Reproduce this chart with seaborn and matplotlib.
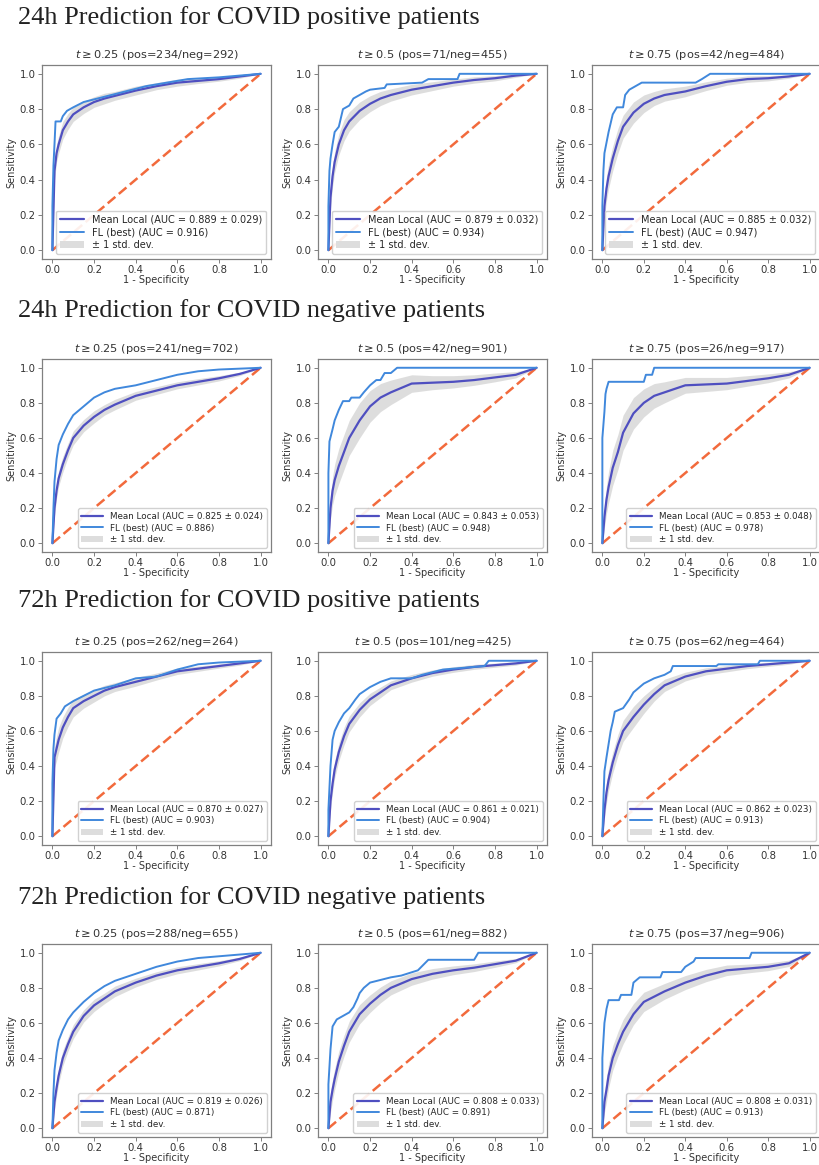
import numpy as np
import matplotlib
matplotlib.use("Agg")
import matplotlib.pyplot as plt
import seaborn as sns

sns.set_style("white")
plt.rcParams["font.family"] = ["DejaVu Sans"]

# ---------------------------------------------------------------------------
# Data
# ---------------------------------------------------------------------------
row_titles = [
    "24h Prediction for COVID positive patients",
    "24h Prediction for COVID negative patients",
    "72h Prediction for COVID positive patients",
    "72h Prediction for COVID negative patients",
]

thresholds = ["0.25", "0.5", "0.75"]

pos_counts = [[234, 71, 42], [241, 42, 26], [262, 101, 62], [288, 61, 37]]
neg_counts = [[292, 455, 484], [702, 901, 917], [264, 425, 464], [655, 882, 906]]

mean_auc = [[0.889, 0.879, 0.885], [0.825, 0.843, 0.853],
            [0.870, 0.861, 0.862], [0.819, 0.808, 0.808]]
std_auc = [[0.029, 0.032, 0.032], [0.024, 0.053, 0.048],
           [0.027, 0.021, 0.023], [0.026, 0.033, 0.031]]
fl_auc = [[0.916, 0.934, 0.947], [0.886, 0.948, 0.978],
          [0.903, 0.904, 0.913], [0.871, 0.891, 0.913]]

# false positive rate grid shared by the averaged local curves
mean_fpr = [0.0, 0.01, 0.02, 0.03, 0.05, 0.075, 0.1, 0.15, 0.2, 0.25,
            0.3, 0.4, 0.5, 0.6, 0.7, 0.8, 0.9, 1.0]

# mean true positive rate of the local models
mean_tpr = [
    [[0.0, 0.45, 0.55, 0.60, 0.68, 0.73, 0.77, 0.81, 0.84, 0.86, 0.875, 0.905, 0.93, 0.95, 0.96, 0.97, 0.985, 1.0],
     [0.0, 0.30, 0.42, 0.50, 0.60, 0.68, 0.73, 0.79, 0.83, 0.86, 0.88, 0.91, 0.93, 0.95, 0.965, 0.975, 0.99, 1.0],
     [0.0, 0.25, 0.35, 0.42, 0.52, 0.62, 0.70, 0.78, 0.83, 0.86, 0.88, 0.90, 0.93, 0.955, 0.97, 0.975, 0.985, 1.0]],
    [[0.0, 0.20, 0.30, 0.37, 0.45, 0.53, 0.60, 0.67, 0.72, 0.76, 0.79, 0.84, 0.87, 0.90, 0.92, 0.94, 0.965, 1.0],
     [0.0, 0.20, 0.30, 0.36, 0.44, 0.52, 0.60, 0.70, 0.78, 0.83, 0.86, 0.91, 0.915, 0.92, 0.93, 0.945, 0.96, 1.0],
     [0.0, 0.15, 0.25, 0.32, 0.43, 0.52, 0.63, 0.74, 0.80, 0.84, 0.86, 0.90, 0.905, 0.91, 0.925, 0.94, 0.96, 1.0]],
    [[0.0, 0.45, 0.50, 0.55, 0.62, 0.68, 0.73, 0.77, 0.80, 0.83, 0.85, 0.88, 0.91, 0.94, 0.955, 0.97, 0.985, 1.0],
     [0.0, 0.20, 0.30, 0.38, 0.48, 0.57, 0.64, 0.72, 0.78, 0.82, 0.86, 0.90, 0.93, 0.95, 0.965, 0.975, 0.985, 1.0],
     [0.0, 0.15, 0.25, 0.32, 0.42, 0.52, 0.60, 0.68, 0.75, 0.81, 0.86, 0.91, 0.94, 0.955, 0.97, 0.98, 0.99, 1.0]],
    [[0.0, 0.15, 0.23, 0.30, 0.40, 0.48, 0.55, 0.64, 0.70, 0.74, 0.78, 0.83, 0.87, 0.90, 0.92, 0.94, 0.965, 1.0],
     [0.0, 0.15, 0.22, 0.28, 0.38, 0.47, 0.55, 0.65, 0.71, 0.76, 0.80, 0.85, 0.88, 0.90, 0.915, 0.935, 0.955, 1.0],
     [0.0, 0.15, 0.22, 0.30, 0.40, 0.48, 0.55, 0.65, 0.72, 0.75, 0.78, 0.83, 0.87, 0.90, 0.91, 0.92, 0.94, 1.0]],
]

# spread (one standard deviation) of the local true positive rates
std_tpr = [
    [[0.0, 0.05, 0.05, 0.05, 0.05, 0.045, 0.04, 0.035, 0.03, 0.03, 0.025, 0.025, 0.02, 0.02, 0.015, 0.012, 0.01, 0.0],
     [0.0, 0.06, 0.06, 0.06, 0.06, 0.06, 0.055, 0.05, 0.045, 0.04, 0.035, 0.03, 0.025, 0.02, 0.018, 0.015, 0.01, 0.0],
     [0.0, 0.06, 0.07, 0.07, 0.07, 0.07, 0.065, 0.06, 0.05, 0.04, 0.035, 0.03, 0.025, 0.02, 0.018, 0.015, 0.01, 0.0]],
    [[0.0, 0.045, 0.045, 0.045, 0.045, 0.04, 0.04, 0.035, 0.035, 0.03, 0.03, 0.025, 0.022, 0.02, 0.018, 0.015, 0.01, 0.0],
     [0.0, 0.06, 0.08, 0.09, 0.10, 0.10, 0.10, 0.10, 0.09, 0.08, 0.07, 0.05, 0.04, 0.035, 0.03, 0.025, 0.018, 0.0],
     [0.0, 0.06, 0.08, 0.09, 0.10, 0.10, 0.10, 0.09, 0.08, 0.07, 0.06, 0.045, 0.04, 0.035, 0.03, 0.025, 0.018, 0.0]],
    [[0.0, 0.06, 0.07, 0.07, 0.06, 0.055, 0.05, 0.04, 0.035, 0.03, 0.025, 0.025, 0.02, 0.018, 0.015, 0.012, 0.01, 0.0],
     [0.0, 0.05, 0.05, 0.05, 0.05, 0.05, 0.045, 0.04, 0.035, 0.03, 0.025, 0.022, 0.018, 0.016, 0.014, 0.012, 0.01, 0.0],
     [0.0, 0.05, 0.06, 0.06, 0.06, 0.06, 0.06, 0.06, 0.05, 0.04, 0.035, 0.025, 0.02, 0.018, 0.015, 0.012, 0.01, 0.0]],
    [[0.0, 0.045, 0.045, 0.045, 0.045, 0.04, 0.04, 0.035, 0.035, 0.03, 0.03, 0.025, 0.022, 0.02, 0.018, 0.015, 0.01, 0.0],
     [0.0, 0.06, 0.06, 0.06, 0.06, 0.06, 0.06, 0.055, 0.05, 0.045, 0.04, 0.035, 0.03, 0.025, 0.022, 0.018, 0.012, 0.0],
     [0.0, 0.06, 0.07, 0.07, 0.07, 0.07, 0.07, 0.06, 0.055, 0.05, 0.045, 0.04, 0.035, 0.03, 0.025, 0.022, 0.018, 0.0]],
]

# federated model ROC curve points
fl_fpr = [
    [[0, 0, 0.005, 0.01, 0.015, 0.04, 0.05, 0.07, 0.1, 0.15, 0.25, 0.35, 0.45, 0.55, 0.65, 0.8, 1.0],
     [0, 0, 0.005, 0.01, 0.02, 0.03, 0.05, 0.07, 0.1, 0.12, 0.15, 0.18, 0.2, 0.27, 0.28, 0.45, 0.48, 0.62, 0.63, 1.0],
     [0, 0, 0.005, 0.01, 0.03, 0.05, 0.07, 0.1, 0.11, 0.13, 0.16, 0.19, 0.45, 0.48, 0.52, 1.0]],
    [[0, 0.005, 0.01, 0.02, 0.03, 0.05, 0.075, 0.1, 0.15, 0.2, 0.25, 0.3, 0.4, 0.5, 0.6, 0.7, 0.8, 1.0],
     [0, 0, 0.005, 0.02, 0.03, 0.05, 0.07, 0.1, 0.11, 0.15, 0.17, 0.2, 0.23, 0.25, 0.27, 0.3, 0.33, 1.0],
     [0, 0, 0.01, 0.015, 0.02, 0.03, 0.2, 0.21, 0.24, 0.25, 1.0]],
    [[0, 0, 0.005, 0.01, 0.02, 0.04, 0.06, 0.1, 0.15, 0.2, 0.3, 0.4, 0.5, 0.6, 0.7, 0.8, 1.0],
     [0, 0, 0.01, 0.02, 0.03, 0.05, 0.075, 0.1, 0.13, 0.15, 0.2, 0.25, 0.3, 0.4, 0.45, 0.55, 0.75, 0.77, 1.0],
     [0, 0.005, 0.01, 0.02, 0.04, 0.05, 0.06, 0.1, 0.13, 0.15, 0.2, 0.25, 0.3, 0.33, 0.34, 0.55, 0.56, 0.75, 0.76, 1.0]],
    [[0, 0.005, 0.01, 0.02, 0.03, 0.05, 0.075, 0.1, 0.15, 0.2, 0.25, 0.3, 0.4, 0.5, 0.6, 0.7, 0.8, 0.9, 1.0],
     [0, 0, 0.01, 0.02, 0.04, 0.07, 0.1, 0.12, 0.14, 0.15, 0.17, 0.2, 0.3, 0.35, 0.43, 0.48, 0.7, 0.72, 1.0],
     [0, 0, 0.01, 0.02, 0.03, 0.08, 0.09, 0.14, 0.15, 0.18, 0.28, 0.29, 0.38, 0.4, 0.44, 0.45, 0.71, 0.72, 1.0]],
]
fl_tpr = [
    [[0, 0.25, 0.48, 0.60, 0.73, 0.73, 0.76, 0.79, 0.81, 0.84, 0.87, 0.90, 0.93, 0.95, 0.97, 0.98, 1.0],
     [0, 0.25, 0.45, 0.52, 0.60, 0.67, 0.70, 0.80, 0.82, 0.86, 0.88, 0.90, 0.91, 0.92, 0.94, 0.95, 0.97, 0.97, 1.0, 1.0],
     [0, 0.25, 0.45, 0.55, 0.67, 0.77, 0.81, 0.81, 0.88, 0.91, 0.93, 0.95, 0.95, 0.97, 1.0, 1.0]],
    [[0, 0.20, 0.35, 0.48, 0.56, 0.62, 0.68, 0.73, 0.78, 0.83, 0.86, 0.88, 0.90, 0.93, 0.96, 0.98, 0.99, 1.0],
     [0, 0.40, 0.58, 0.65, 0.70, 0.76, 0.81, 0.81, 0.83, 0.83, 0.86, 0.90, 0.93, 0.93, 0.97, 0.97, 1.0, 1.0],
     [0, 0.60, 0.75, 0.85, 0.88, 0.92, 0.92, 0.96, 0.96, 1.0, 1.0]],
    [[0, 0.30, 0.50, 0.58, 0.67, 0.70, 0.74, 0.77, 0.80, 0.83, 0.86, 0.90, 0.91, 0.95, 0.98, 0.99, 1.0],
     [0, 0.15, 0.40, 0.55, 0.60, 0.65, 0.70, 0.73, 0.78, 0.81, 0.85, 0.88, 0.90, 0.90, 0.92, 0.95, 0.97, 1.0, 1.0],
     [0, 0.20, 0.37, 0.45, 0.60, 0.65, 0.71, 0.73, 0.78, 0.82, 0.87, 0.90, 0.92, 0.94, 0.97, 0.97, 0.98, 0.98, 1.0, 1.0]],
    [[0, 0.20, 0.33, 0.43, 0.50, 0.56, 0.62, 0.66, 0.72, 0.77, 0.81, 0.84, 0.88, 0.92, 0.95, 0.97, 0.98, 0.99, 1.0],
     [0, 0.25, 0.45, 0.58, 0.62, 0.64, 0.66, 0.69, 0.74, 0.77, 0.80, 0.83, 0.86, 0.87, 0.90, 0.96, 0.96, 1.0, 1.0],
     [0, 0.40, 0.60, 0.68, 0.73, 0.73, 0.76, 0.76, 0.83, 0.86, 0.86, 0.89, 0.89, 0.92, 0.95, 0.97, 0.97, 1.0, 1.0]],
]

# ---------------------------------------------------------------------------
# Styling and layout
# ---------------------------------------------------------------------------
MEAN_COLOR = "#4f4fc0"
FL_COLOR = "#4088dc"
DIAG_COLOR = "#f26a3c"
BAND_COLOR = "#dadada"
SPINE_COLOR = "#808080"

W, H = 820, 1165
fig = plt.figure(figsize=(W / 100, H / 100), dpi=100)

col_px = [(42, 271), (318, 547), (592, 820)]
row_px = [(65, 259), (359, 552), (652, 845), (944, 1137)]
row_title_y = [18, 311, 601, 898]
legend_size = [7.0, 6.3, 6.3, 6.3]

for r in range(4):
    fig.text(18 / W, 1 - row_title_y[r] / H, row_titles[r], family="Liberation Serif",
             fontsize=19, color="#222222", va="center", ha="left")
    for c in range(3):
        x0, x1 = col_px[c]
        y0, y1 = row_px[r]
        ax = fig.add_axes([x0 / W, 1 - y1 / H, (x1 - x0) / W, (y1 - y0) / H])

        mt = np.array(mean_tpr[r][c])
        st = np.array(std_tpr[r][c])
        lo = np.clip(mt - st, 0, 1)
        hi = np.clip(mt + st, 0, 1)

        sns.lineplot(x=mean_fpr, y=mt, ax=ax, color=MEAN_COLOR, lw=1.6,
                     estimator=None, sort=False, zorder=4,
                     label=f"Mean Local (AUC = {mean_auc[r][c]:.3f} \u00b1 {std_auc[r][c]:.3f})")
        sns.lineplot(x=fl_fpr[r][c], y=fl_tpr[r][c], ax=ax, color=FL_COLOR, lw=1.4,
                     estimator=None, sort=False, zorder=5,
                     label=f"FL (best) (AUC = {fl_auc[r][c]:.3f})")
        ax.fill_between(mean_fpr, lo, hi, color=BAND_COLOR, alpha=0.9, lw=0,
                        zorder=2, label="\u00b1 1 std. dev.")
        ax.plot([0, 1], [0, 1], ls=(0, (4, 1.8)), color=DIAG_COLOR, lw=1.8, zorder=3)

        ax.set_xlim(-0.05, 1.05)
        ax.set_ylim(-0.05, 1.05)
        ax.set_xticks([0, 0.2, 0.4, 0.6, 0.8, 1.0])
        ax.set_yticks([0, 0.2, 0.4, 0.6, 0.8, 1.0])
        ax.tick_params(axis="both", labelsize=7.3, length=3, width=0.7,
                       color=SPINE_COLOR, labelcolor="#333333", pad=1.5,
                       bottom=True, left=True)
        for sp in ax.spines.values():
            sp.set_color(SPINE_COLOR)
            sp.set_linewidth(0.9)
        ax.set_xlabel("1 - Specificity", fontsize=7, color="#333333", labelpad=0)
        ax.set_ylabel("Sensitivity", fontsize=7, color="#333333", labelpad=2)
        ax.set_title(rf"$t \geq {thresholds[c]}$ (pos={pos_counts[r][c]}/neg={neg_counts[r][c]})",
                     fontsize=8.2, color="#333333", pad=5)
        ax.legend(loc="lower right", fontsize=legend_size[r], frameon=True,
                  framealpha=0.9, edgecolor="#cccccc", borderpad=0.4,
                  handlelength=2.5, labelspacing=0.3)

fig.savefig("out.png", dpi=100, facecolor="white")
